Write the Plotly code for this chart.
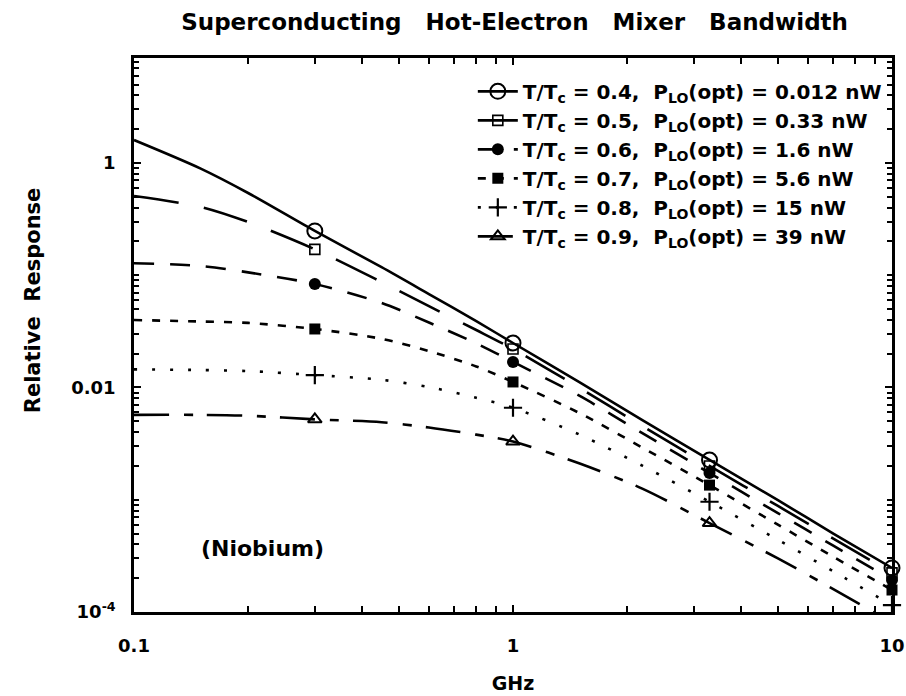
import plotly.graph_objects as go

# ---------------- data ----------------
freq_ghz = [0.1, 0.15, 0.2, 0.3, 0.45, 0.6, 0.8, 1.0, 1.5, 2.2, 3.3, 5.0, 7.0, 10.0]
marker_freqs = [0.3, 1.0, 3.3, 10.0]

resp_t04 = [1.60, 0.89, 0.54, 0.248, 0.118, 0.068, 0.039, 0.0249, 0.0111, 0.0051, 0.00226, 0.00099, 0.00050, 0.000247]
resp_t05 = [0.508, 0.406, 0.298, 0.170, 0.087, 0.053, 0.0325, 0.0220, 0.0099, 0.0045, 0.0020, 0.00088, 0.00045, 0.000223]
resp_t06 = [0.128, 0.121, 0.106, 0.0836, 0.0566, 0.0379, 0.0247, 0.0169, 0.0084, 0.0039, 0.00173, 0.00076, 0.00039, 0.000193]
resp_t07 = [0.0399, 0.0387, 0.0376, 0.0332, 0.0271, 0.0211, 0.0154, 0.0112, 0.0059, 0.0029, 0.00135, 0.00060, 0.00031, 0.000157]
resp_t08 = [0.0145, 0.0143, 0.0140, 0.0129, 0.0117, 0.0101, 0.0081, 0.0066, 0.0038, 0.0020, 0.00096, 0.00044, 0.00023, 0.000115]
resp_t09 = [0.0057, 0.0057, 0.0056, 0.0052, 0.0049, 0.0044, 0.0038, 0.0033, 0.0021, 0.00125, 0.00062, 0.00030, 0.00016, 0.00008]

t_over_tc = ["0.4", "0.5", "0.6", "0.7", "0.8", "0.9"]
p_lo_opt = ["0.012", "0.33", "1.6", "5.6", "15", "39"]

x_tick_vals = [0.1, 1, 10]
x_tick_text = ["0.1", "1", "10"]
y_tick_vals = [1e-4, 0.01, 1]
y_tick_text = ["10<sup>-4</sup>", "0.01", "1"]

Y_MIN_LOG = -4.0
Y_MAX_LOG = 0.935

# ---------------- styles ----------------
series = [resp_t04, resp_t05, resp_t06, resp_t07, resp_t08, resp_t09]
dashes = ["solid", "45px,26px", "20px,16px", "8px,10px", "3px,15px", "35px,15px,9px,14px"]
markers = [
    dict(symbol="circle-open", size=15, color="black", line=dict(width=2, color="black")),
    dict(symbol="square-open", size=10, color="black", line=dict(width=1.6, color="black")),
    dict(symbol="circle", size=12, color="black", line=dict(width=0)),
    dict(symbol="square", size=11, color="black", line=dict(width=0)),
    dict(symbol="cross-thin-open", size=13, color="black", line=dict(width=2.2, color="black")),
    dict(symbol="triangle-up-open", size=12, color="black", line=dict(width=2, color="black")),
]

FONT = "DejaVu Sans"
NB = "\u00a0"

fig = go.Figure()

for i, vals in enumerate(series):
    label = f"T/T<sub>c</sub> = {t_over_tc[i]},{NB}{NB}P<sub>LO</sub>(opt) = {p_lo_opt[i]} nW"
    fig.add_trace(go.Scatter(
        x=freq_ghz, y=vals, mode="lines", line_shape="spline",
        line=dict(color="black", width=2.6, dash=dashes[i], smoothing=0.8),
        showlegend=False, hoverinfo="skip"))
    mx, my = [], []
    for f, v in zip(freq_ghz, vals):
        if f in marker_freqs and v >= 10 ** Y_MIN_LOG:
            mx.append(f)
            my.append(v)
    fig.add_trace(go.Scatter(
        x=mx, y=my, mode="markers", marker=markers[i], cliponaxis=False,
        showlegend=False, hoverinfo="skip"))
    fig.add_trace(go.Scatter(
        x=[None], y=[None], mode="lines+markers", name=label,
        line=dict(color="black", width=2.6, dash=dashes[i]),
        marker=markers[i], showlegend=True))

x_minor = [m * 10 ** e for e in (-1, 0) for m in range(2, 10)]
y_minor = [m * 10 ** e for e in (-4, -3, -2, -1, 0) for m in range(1, 10)
           if not any(abs(m * 10 ** e - v) < 1e-12 for v in y_tick_vals)]

axis_common = dict(
    type="log", showgrid=False, zeroline=False, automargin=False,
    showline=True, linecolor="black", linewidth=2.5, mirror="ticks",
    ticks="inside", ticklen=7, tickwidth=1.8, tickcolor="black",
    tickfont=dict(family=FONT, size=18, color="black", weight="bold"),
)

fig.update_layout(
    width=906, height=696,
    margin=dict(l=134, r=14, t=58, b=84, autoexpand=False),
    paper_bgcolor="white", plot_bgcolor="white",
    font=dict(family=FONT, color="black", weight="bold"),
    title=dict(
        text=f"Superconducting{NB*3}Hot-Electron{NB*3}Mixer{NB*3}Bandwidth",
        x=0.568, xanchor="center", y=0.968, yanchor="middle",
        font=dict(family=FONT, size=23, color="black", weight="bold")),
    xaxis=dict(axis_common, range=[-1, 1], tickmode="array",
               tickvals=x_tick_vals, ticktext=x_tick_text, ticklabelstandoff=16,
               minor=dict(tickmode="array", tickvals=x_minor, ticks="inside",
                          ticklen=6, tickwidth=1.5, tickcolor="black"),
               title=dict(text="GHz", standoff=22,
                          font=dict(family=FONT, size=19, color="black", weight="bold"))),
    yaxis=dict(axis_common, range=[Y_MIN_LOG, Y_MAX_LOG], tickmode="array",
               tickvals=y_tick_vals, ticktext=y_tick_text, ticklabelstandoff=12,
               minor=dict(tickmode="array", tickvals=y_minor, ticks="inside",
                          ticklen=5, tickwidth=1.5, tickcolor="black")),
    legend=dict(
        x=0.447, xanchor="left", y=0.975, yanchor="top",
        bgcolor="rgba(0,0,0,0)", borderwidth=0, itemwidth=40,
        font=dict(family=FONT, size=20, color="black", weight="bold"),
        traceorder="normal"),
    annotations=[
        dict(text="(Niobium)", xref="paper", yref="paper", x=0.169, y=0.115,
             xanchor="center", yanchor="middle", showarrow=False,
             font=dict(family=FONT, size=22, color="black", weight="bold")),
        dict(text=f"Relative{NB*2}Response", xref="paper", yref="paper",
             x=-0.133, y=0.563, xanchor="center", yanchor="middle",
             textangle=-90, showarrow=False,
             font=dict(family=FONT, size=21, color="black", weight="bold")),
    ],
)

fig.write_html(
    "out.html",
    config={"displayModeBar": False},
    post_script="document.body.style.margin='0';"
                "document.documentElement.style.overflow='hidden';",
)
